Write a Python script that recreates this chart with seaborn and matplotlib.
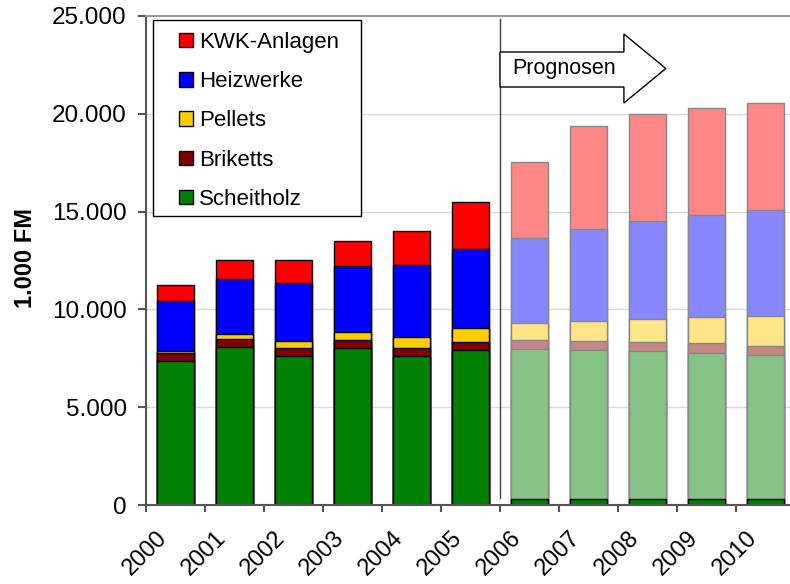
import numpy as np
import pandas as pd
import matplotlib
matplotlib.use("Agg")
import matplotlib.pyplot as plt
import matplotlib.transforms as mtransforms
from matplotlib.patches import Patch, Rectangle, Polygon
from matplotlib.ticker import FuncFormatter, FixedLocator
import seaborn as sns

# data
years = ['2000', '2001', '2002', '2003', '2004', '2005',
         '2006', '2007', '2008', '2009', '2010']
forecast_years = ['2006', '2007', '2008', '2009', '2010']
scheitholz = [7360, 8090, 7630, 8010, 7620, 7910, 7960, 7910, 7860, 7770, 7650]
briketts = [390, 380, 380, 410, 420, 440, 460, 460, 470, 510, 490]
pellets = [140, 270, 360, 440, 560, 720, 870, 1040, 1160, 1310, 1520]
heizwerke = [2520, 2800, 3000, 3360, 3670, 4040, 4380, 4700, 5030, 5240, 5420]
kwk = [840, 990, 1160, 1290, 1750, 2360, 3880, 5270, 5450, 5450, 5460]
forecast_base = [300, 300, 300, 300, 300]

series = ['Scheitholz', 'Briketts', 'Pellets', 'Heizwerke', 'KWK-Anlagen']
solid = {'Scheitholz': '#008000', 'Briketts': '#800000', 'Pellets': '#FFCC00',
         'Heizwerke': '#0000FF', 'KWK-Anlagen': '#FF0000'}
faded = {'Scheitholz': '#87C387', 'Briketts': '#C38787', 'Pellets': '#FFE587',
         'Heizwerke': '#8787FF', 'KWK-Anlagen': '#FF8787'}

wide = pd.DataFrame({'Jahr': years, 'Scheitholz': scheitholz, 'Briketts': briketts,
                     'Pellets': pellets, 'Heizwerke': heizwerke, 'KWK-Anlagen': kwk})
cum = wide[series].cumsum(axis=1)
cum['Jahr'] = wide['Jahr']
long = cum.melt(id_vars='Jahr', var_name='Reihe', value_name='Wert')
long['Prognose'] = long['Jahr'].isin(forecast_years)

plt.rcParams['font.family'] = ['Liberation Sans', 'DejaVu Sans']

fig = plt.figure(figsize=(7.9, 5.84), dpi=100)
ax = fig.add_axes([146 / 790, 1 - 505 / 584, 649 / 790, 489 / 584])

# tallest (cumulative) first, so lower segments are drawn on top
draw_order = series[::-1]
sns.barplot(data=long[~long['Prognose']], x='Jahr', y='Wert', hue='Reihe',
            order=years, hue_order=draw_order, palette=solid, dodge=False,
            width=0.63, edgecolor='black', linewidth=1, errorbar=None,
            saturation=1, legend=False, ax=ax)
sns.barplot(data=long[long['Prognose']], x='Jahr', y='Wert', hue='Reihe',
            order=years, hue_order=draw_order, palette=faded, dodge=False,
            width=0.63, edgecolor='#878787', linewidth=1, errorbar=None,
            saturation=1, legend=False, ax=ax)
sns.barplot(x=forecast_years, y=forecast_base, order=years, color='#008000',
            width=0.63, edgecolor='black', linewidth=1, errorbar=None,
            saturation=1, ax=ax)

ax.set_xlim(-0.5, 10.5)
ax.set_ylim(0, 25000)
ax.set_yticks(np.arange(0, 25001, 5000))
ax.yaxis.set_major_formatter(FuncFormatter(lambda v, p: f'{int(v):,}'.replace(',', '.')))
ax.yaxis.grid(True, color='#d9d9d9', lw=1)
ax.set_axisbelow(True)
ax.set_xlabel('')
ax.set_ylabel('1.000 FM', fontsize=17, fontweight='bold')
ax.yaxis.set_label_coords(-0.168, 0.505)

for s in ['left', 'bottom']:
    ax.spines[s].set_color('#555555')
    ax.spines[s].set_linewidth(1.5)
ax.spines['top'].set_color('#999999')
ax.spines['top'].set_linewidth(1.5)
ax.spines['right'].set_visible(False)

ax.tick_params(axis='y', labelsize=17.5, length=5.8, width=1.5, color='#555555', pad=8)
ax.tick_params(axis='x', which='major', length=0, labelsize=17, pad=21)
ax.xaxis.set_minor_locator(FixedLocator(np.arange(-0.5, 11, 1)))
ax.tick_params(axis='x', which='minor', length=5, width=1.5, color='#555555')
ax.set_xticks(range(len(years)))
ax.set_xticklabels(years, rotation=45, ha='right', va='center', rotation_mode='anchor')
shift = mtransforms.ScaledTranslation(-0.12, 0, fig.dpi_scale_trans)
for lbl in ax.get_xticklabels():
    lbl.set_transform(lbl.get_transform() + shift)

# forecast separator and arrow
ax.axvline(5.5, ymin=7 / 489, ymax=486 / 489, color='#404040', lw=1)
arrow = Polygon([(5.5, 23160), (7.6, 23160), (7.6, 24080), (8.31, 22315),
                 (7.6, 20550), (7.6, 21370), (5.5, 21370)], closed=True,
                facecolor='white', edgecolor='black', lw=1, zorder=3)
ax.add_patch(arrow)
ax.text(5.70, 22315, 'Prognosen', fontsize=15.5, va='center', ha='left', zorder=4)

# legend
ax.add_patch(Rectangle((153 / 790, 1 - 216 / 584), 208 / 790, 196 / 584,
                       transform=fig.transFigure, facecolor='white',
                       edgecolor='black', lw=1, zorder=4, clip_on=False))
handles = [Patch(facecolor=solid[s], edgecolor='black', lw=1) for s in draw_order]
ax.legend(handles, draw_order, loc='upper left', bbox_to_anchor=(179 / 790, 1 - 32 / 584),
          bbox_transform=fig.transFigure, frameon=False, fontsize=16, borderpad=0,
          borderaxespad=0, handlelength=0.63, handleheight=0.63, handletextpad=0.27,
          labelspacing=0.82)

fig.savefig('out.png', dpi=100)
